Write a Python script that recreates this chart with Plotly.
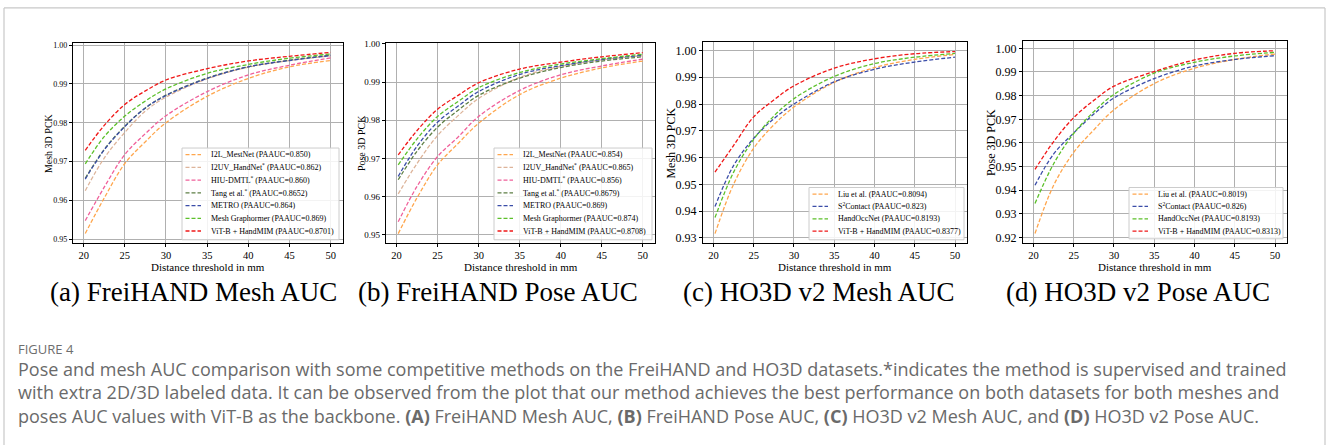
import plotly.graph_objects as go

W, H = 1328, 447

# ---------------- data ----------------
x_mm = [20.2, 22.5, 25, 27.5, 30, 35, 40, 45, 50]

# (a) FreiHAND Mesh
a_names = ["I2L_MestNet (PAAUC=0.850)", "I2UV_HandNet<sup>*</sup> (PAAUC=0.862)",
           "HIU-DMTL<sup>*</sup> (PAAUC=0.860)", "Tang et al.<sup>*</sup> (PAAUC=0.8652)",
           "METRO (PAAUC=0.864)", "Mesh Graphormer (PAAUC=0.869)",
           "ViT-B + HandMIM (PAAUC=0.8701)"]
a_i2l = [0.9515, 0.9606, 0.9695, 0.9751, 0.9800, 0.9868, 0.9914, 0.9944, 0.9960]
a_i2uv = [0.9625, 0.9709, 0.9775, 0.9830, 0.9866, 0.9913, 0.9943, 0.9960, 0.9972]
a_hiu = [0.9548, 0.9634, 0.9718, 0.9772, 0.9818, 0.9880, 0.9923, 0.9948, 0.9967]
a_tang = [0.9657, 0.9731, 0.9791, 0.9838, 0.9871, 0.9915, 0.9944, 0.9961, 0.9974]
a_metro = [0.9655, 0.9730, 0.9790, 0.9838, 0.9870, 0.9914, 0.9944, 0.9960, 0.9973]
a_graph = [0.9694, 0.9764, 0.9817, 0.9856, 0.9887, 0.9927, 0.9950, 0.9966, 0.9977]
a_ours = [0.9729, 0.9793, 0.9847, 0.9882, 0.9910, 0.9939, 0.9959, 0.9971, 0.9981]

# (b) FreiHAND Pose
b_names = ["I2L_MestNet (PAAUC=0.854)", "I2UV_HandNet<sup>*</sup> (PAAUC=0.865)",
           "HIU-DMTL<sup>*</sup> (PAAUC=0.856)", "Tang et al.<sup>*</sup> (PAAUC=0.8679)",
           "METRO (PAAUC=0.869)", "Mesh Graphormer (PAAUC=0.874)",
           "ViT-B + HandMIM (PAAUC=0.8708)"]
b_i2l = [0.9503, 0.9597, 0.9683, 0.9739, 0.9792, 0.9867, 0.9910, 0.9937, 0.9955]
b_i2uv = [0.9607, 0.9687, 0.9760, 0.9812, 0.9857, 0.9912, 0.9941, 0.9958, 0.9969]
b_hiu = [0.9534, 0.9627, 0.9705, 0.9756, 0.9810, 0.9878, 0.9919, 0.9942, 0.9960]
b_tang = [0.9644, 0.9719, 0.9782, 0.9826, 0.9865, 0.9910, 0.9938, 0.9955, 0.9966]
b_metro = [0.9653, 0.9732, 0.9795, 0.9837, 0.9875, 0.9920, 0.9943, 0.9959, 0.9970]
b_graph = [0.9683, 0.9751, 0.9810, 0.9849, 0.9885, 0.9925, 0.9947, 0.9961, 0.9973]
b_ours = [0.9709, 0.9773, 0.9829, 0.9865, 0.9898, 0.9934, 0.9952, 0.9966, 0.9977]

# (c) HO3D v2 Mesh
c_names = ["Liu et al. (PAAUC=0.8094)", "S<sup>2</sup>Contact (PAAUC=0.823)",
           "HandOccNet (PAAUC=0.8193)", "ViT-B + HandMIM (PAAUC=0.8377)"]
c_liu = [0.9316, 0.9500, 0.9635, 0.9722, 0.9789, 0.9881, 0.9936, 0.9967, 0.9985]
c_s2c = [0.9417, 0.9570, 0.9672, 0.9745, 0.9800, 0.9883, 0.9930, 0.9957, 0.9975]
c_hon = [0.9376, 0.9545, 0.9668, 0.9755, 0.9820, 0.9903, 0.9951, 0.9975, 0.9989]
c_ours = [0.9546, 0.9645, 0.9752, 0.9815, 0.9868, 0.9934, 0.9969, 0.9988, 0.9996]

# (d) HO3D v2 Pose
d_names = ["Liu et al. (PAAUC=0.8019)", "S<sup>2</sup>Contact (PAAUC=0.826)",
           "HandOccNet (PAAUC=0.8193)", "ViT-B + HandMIM (PAAUC=0.8313)"]
d_liu = [0.9217, 0.9420, 0.9560, 0.9655, 0.9740, 0.9851, 0.9916, 0.9953, 0.9976]
d_s2c = [0.9421, 0.9553, 0.9642, 0.9722, 0.9790, 0.9872, 0.9925, 0.9953, 0.9969]
d_hon = [0.9344, 0.9511, 0.9640, 0.9732, 0.9805, 0.9895, 0.9941, 0.9968, 0.9983]
d_ours = [0.9488, 0.9605, 0.9707, 0.9780, 0.9840, 0.9902, 0.9951, 0.9979, 0.9990]

x_ticks = [20, 25, 30, 35, 40, 45, 50]
ab_yticks = [0.95, 0.96, 0.97, 0.98, 0.99, 1.00]
c_yticks = [0.93, 0.94, 0.95, 0.96, 0.97, 0.98, 0.99, 1.00]
d_yticks = [0.92, 0.93, 0.94, 0.95, 0.96, 0.97, 0.98, 0.99, 1.00]

subtitles = ["(a) FreiHAND Mesh AUC", "(b) FreiHAND Pose AUC",
             "(c) HO3D v2 Mesh AUC", "(d) HO3D v2 Pose AUC"]
ylabels = ["Mesh 3D PCK", "Pose 3D PCK", "Mesh 3D PCK", "Pose 3D PCK"]
xlabel = "Distance threshold in mm"

caption_head = "FIGURE 4"
caption_lines = [
    "Pose and mesh AUC comparison with some competitive methods on the FreiHAND and HO3D datasets.*indicates the method is supervised and trained",
    "with extra 2D/3D labeled data. It can be observed from the plot that our method achieves the best performance on both datasets for both meshes and",
    "poses AUC values with ViT-B as the backbone. <b>(A)</b> FreiHAND Mesh AUC, <b>(B)</b> FreiHAND Pose AUC, <b>(C)</b> HO3D v2 Mesh AUC, and <b>(D)</b> HO3D v2 Pose AUC.",
]

# ---------------- styles ----------------
C_ORANGE = "#FFA64D"
C_TAN = "#DDB49A"
C_PINK = "#F0609A"
C_OLIVE = "#5E7F45"
C_BLUE = "#3B4DA8"
C_GREEN = "#5CC02A"
C_RED = "#F01818"

SERIF = "Liberation Serif"
SANS = "Open Sans"

panels = [
    dict(series=[a_i2l, a_i2uv, a_hiu, a_tang, a_metro, a_graph, a_ours], names=a_names,
         colors=[C_ORANGE, C_TAN, C_PINK, C_OLIVE, C_BLUE, C_GREEN, C_RED],
         box=(73, 343, 40, 242), yr=[0.9491, 1.0004], yt=ab_yticks, ytf=8,
         leg=(182, 339, 146, 239, 152.7, 12.9), ylab_x=48, ylab_f=10, sub_x=193),
    dict(series=[b_i2l, b_i2uv, b_hiu, b_tang, b_metro, b_graph, b_ours], names=b_names,
         colors=[C_ORANGE, C_TAN, C_PINK, C_OLIVE, C_BLUE, C_GREEN, C_RED],
         box=(386, 655, 40, 242), yr=[0.9479, 1.0001], yt=ab_yticks, ytf=9,
         leg=(494, 652, 146, 239, 152.7, 12.9), ylab_x=361, ylab_f=10, sub_x=498),
    dict(series=[c_liu, c_s2c, c_hon, c_ours], names=c_names,
         colors=[C_ORANGE, C_BLUE, C_GREEN, C_RED],
         box=(703, 967, 39, 242), yr=[0.9282, 1.0030], yt=c_yticks, ytf=12,
         leg=(809, 964, 186, 239, 192.7, 12.5), ylab_x=671, ylab_f=12, sub_x=818),
    dict(series=[d_liu, d_s2c, d_hon, d_ours], names=d_names,
         colors=[C_ORANGE, C_BLUE, C_GREEN, C_RED],
         box=(1023, 1287, 38, 242), yr=[0.9178, 1.0029], yt=d_yticks, ytf=12,
         leg=(1129, 1283, 186, 238, 192.7, 12.5), ylab_x=991, ylab_f=12, sub_x=1138),
]


def px(v):
    return v / W


def py(v):
    return 1 - v / H


fig = go.Figure()
shapes = []
annotations = []

for i, p in enumerate(panels):
    k = "" if i == 0 else str(i + 1)
    xa, ya = "x" + k, "y" + k
    l, r, t, b = p["box"]
    for s, nm, col in zip(p["series"], p["names"], p["colors"]):
        fig.add_trace(go.Scatter(
            x=x_mm, y=s, mode="lines", name=nm, xaxis=xa, yaxis=ya, showlegend=False,
            hoverinfo="skip",
            line=dict(color=col, width=1.3, dash="4px,2px", shape="spline", smoothing=1.0)))
    axis_common = dict(showline=True, mirror=True, linecolor="black", linewidth=1.2,
                       showgrid=True, gridcolor="#b0b0b0", gridwidth=1,
                       ticks="outside", ticklen=3, tickcolor="black", tickwidth=1,
                       zeroline=False)
    fig.layout["xaxis" + k] = dict(
        domain=[px(l), px(r)], range=[18.71, 51.49], anchor=ya,
        tickvals=x_ticks, ticktext=[str(v) for v in x_ticks],
        tickfont=dict(family=SERIF, size=10.5, color="black"), **axis_common)
    fig.layout["yaxis" + k] = dict(
        domain=[py(b), py(t)], range=p["yr"], anchor=xa,
        tickvals=p["yt"], ticktext=["%.2f" % v for v in p["yt"]],
        tickfont=dict(family=SERIF, size=p["ytf"], color="black"), **axis_common)

    # axis titles
    annotations.append(dict(x=px((l + r) / 2), y=py(267), xref="paper", yref="paper",
                            text=xlabel, showarrow=False, xanchor="center", yanchor="middle",
                            font=dict(family=SERIF, size=11, color="black")))
    annotations.append(dict(x=px(p["ylab_x"]), y=py((t + b) / 2), xref="paper", yref="paper",
                            text=ylabels[i], showarrow=False, textangle=-90,
                            xanchor="center", yanchor="middle",
                            font=dict(family=SERIF, size=p["ylab_f"], color="black")))
    # subtitle
    annotations.append(dict(x=px(p["sub_x"]), y=py(292), xref="paper", yref="paper",
                            text=subtitles[i], showarrow=False, xanchor="center", yanchor="middle",
                            font=dict(family=SERIF, size=27, color="black")))

    # legend (drawn manually to match compact matplotlib layout)
    gl, gr, gt, gb, first, step = p["leg"]
    shapes.append(dict(type="rect", xref="paper", yref="paper",
                       x0=px(gl), x1=px(gr), y0=py(gb), y1=py(gt),
                       fillcolor="rgba(255,255,255,0.85)", line=dict(color="#cccccc", width=1),
                       layer="above"))
    for j, (nm, col) in enumerate(zip(p["names"], p["colors"])):
        yy = first + j * step
        shapes.append(dict(type="line", xref="paper", yref="paper",
                           x0=px(gl + 3.5), x1=px(gl + 19), y0=py(yy), y1=py(yy),
                           line=dict(color=col, width=1.3, dash="4px,2px"), layer="above"))
        annotations.append(dict(x=px(gl + 26.5), y=py(yy), xref="paper", yref="paper",
                                text=nm, showarrow=False, xanchor="left", yanchor="middle",
                                font=dict(family=SERIF, size=8, color="black")))

# caption
annotations.append(dict(x=px(16), y=py(350), xref="paper", yref="paper", text=caption_head,
                        showarrow=False, xanchor="left", yanchor="middle",
                        font=dict(family=SANS, size=13, color="#6e6e6e")))
annotations.append(dict(x=px(16), y=py(393.5), xref="paper", yref="paper",
                        text="<br>".join(caption_lines), align="left",
                        showarrow=False, xanchor="left", yanchor="middle",
                        font=dict(family=SANS, size=18, color="#6a6a6a")))

# outer frame (open at bottom)
for (x0, y0, x1, y1) in [(4, 4, 1325, 4), (4, 4, 4, 447), (1325, 4, 1325, 447)]:
    shapes.append(dict(type="line", xref="paper", yref="paper",
                       x0=px(x0), x1=px(x1), y0=py(y0), y1=py(y1),
                       line=dict(color="#c8c8c8", width=1.2)))

fig.update_layout(width=W, height=H, margin=dict(l=0, r=0, t=0, b=0),
                  paper_bgcolor="white", plot_bgcolor="white", hovermode=False,
                  shapes=shapes, annotations=annotations, showlegend=False)

fig.write_html("out.html", config={"displayModeBar": False},
               post_script="document.body.style.margin='0';document.body.style.overflow='hidden';")
